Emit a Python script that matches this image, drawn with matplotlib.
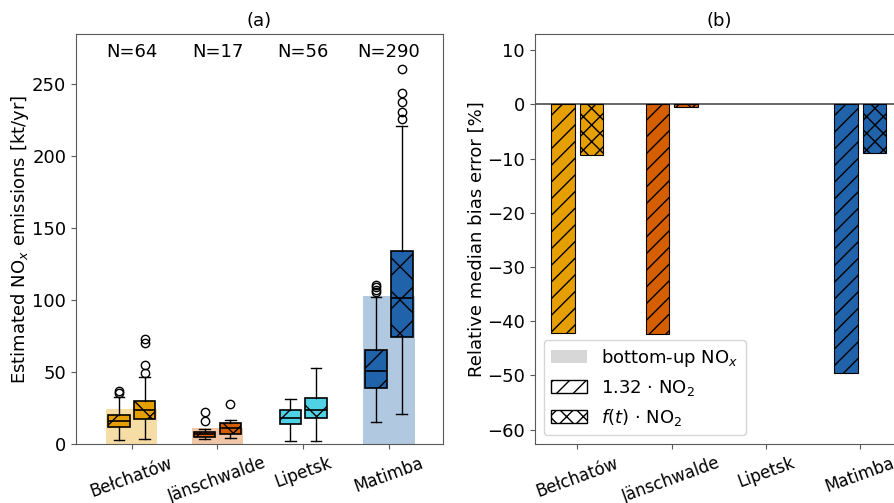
import numpy as np
import matplotlib.pyplot as plt
from matplotlib.patches import Patch

plants = ["Bełchatów", "Jänschwalde", "Lipetsk", "Matimba"]
n_obs = [64, 17, 56, 290]
colors = ["#E69F00", "#D55E00", "#4FD2E6", "#2163AA"]
bottom_up = [24.5, 11.1, np.nan, 103.2]

# box stats: whislo, q1, med, q3, whishi
stats_132 = [
    [3.0, 11.8, 16.4, 20.3, 32.6],
    [3.5, 4.8, 6.9, 8.8, 10.6],
    [2.5, 13.9, 18.3, 23.6, 31.5],
    [15.3, 39.3, 51.1, 65.5, 102.5],
]
fliers_132 = [[35.4, 37.2], [16.4, 22.2], [], [106.0, 107.5, 109.0, 110.6]]
stats_ft = [
    [3.7, 17.3, 23.8, 30.1, 46.5],
    [4.6, 6.9, 11.1, 15.0, 16.9],
    [2.5, 18.1, 23.8, 32.4, 53.2],
    [21.0, 74.3, 101.8, 134.2, 221.3],
]
fliers_ft = [[49.3, 55.1, 70.1, 72.9], [28.0], [], [225.7, 231.0, 237.5, 243.8, 260.4]]

# panel (b): relative median bias error [%]
bias_132 = [-42.1, -42.4, np.nan, -49.5]
bias_ft = [-9.4, -0.5, np.nan, -9.0]

plt.rcParams['font.size'] = 13

fig = plt.figure(figsize=(8.94, 5.03), dpi=100)
ax1 = fig.add_axes([0.085, 0.1167, 0.4105, 0.8157])
ax2 = fig.add_axes([0.598, 0.1167, 0.412, 0.8157])

x = np.arange(len(plants))

def make_stats(rows, fl):
    out = []
    for r, f in zip(rows, fl):
        out.append(dict(whislo=r[0], q1=r[1], med=r[2], q3=r[3], whishi=r[4], fliers=f))
    return out

ax1.bar(x, bottom_up, width=0.6, color=colors, alpha=0.35, linewidth=0)

for stats, fl, off, hatch in [(stats_132, fliers_132, -0.15, '/'), (stats_ft, fliers_ft, 0.15, 'x')]:
    bp = ax1.bxp(make_stats(stats, fl),
                 positions=x + off, widths=0.25, patch_artist=True,
                 medianprops=dict(color='k', lw=1.2),
                 boxprops=dict(lw=1.2), manage_ticks=False)
    for box, c in zip(bp['boxes'], colors):
        box.set_facecolor(c)
        box.set_edgecolor('k')
        box.set_hatch(hatch)

for i, n in enumerate(n_obs):
    ax1.text(x[i], 0.955, "N=%d" % n, transform=ax1.get_xaxis_transform(),
             ha='center', va='center', fontsize=13)

ax1.set_xlim(-0.65, 3.63)
ax1.set_ylim(0, 285)
ax1.set_xticks(x)
ax1.set_xticklabels(plants, rotation=20, fontsize=12)
ax1.set_ylabel("Estimated NO$_x$ emissions [kt/yr]", labelpad=1)
ax1.set_title("(a)", fontsize=13)

ax2.axhline(0, color='0.3', lw=1.2, zorder=0)
ax2.bar(x - 0.15, bias_132, width=0.25, color=colors, edgecolor='k',
        hatch='//', linewidth=0.8)
ax2.bar(x + 0.15, bias_ft, width=0.25, color=colors, edgecolor='k',
        hatch='xx', linewidth=0.8)
ax2.set_xlim(-0.454, 3.454)
ax2.set_ylim(-62.7, 13)
ax2.set_xticks(x)
ax2.set_xticklabels(plants, rotation=20, fontsize=12)
ax2.set_ylabel("Relative median bias error [%]", labelpad=1)
ax2.set_title("(b)", fontsize=13)

handles = [Patch(facecolor='lightgray', alpha=0.9, label="bottom-up NO$_x$"),
           Patch(facecolor='white', edgecolor='k', hatch='//', label="1.32 $\\cdot$ NO$_2$"),
           Patch(facecolor='white', edgecolor='k', hatch='xx', label="$f(t)$ $\\cdot$ NO$_2$")]
ax2.legend(handles=handles, loc='lower left', fontsize=13)

for ax in (ax1, ax2):
    for s in ax.spines.values():
        s.set_color('0.35')
    ax.tick_params(color='0.35')

fig.savefig("out.png", dpi=100)
